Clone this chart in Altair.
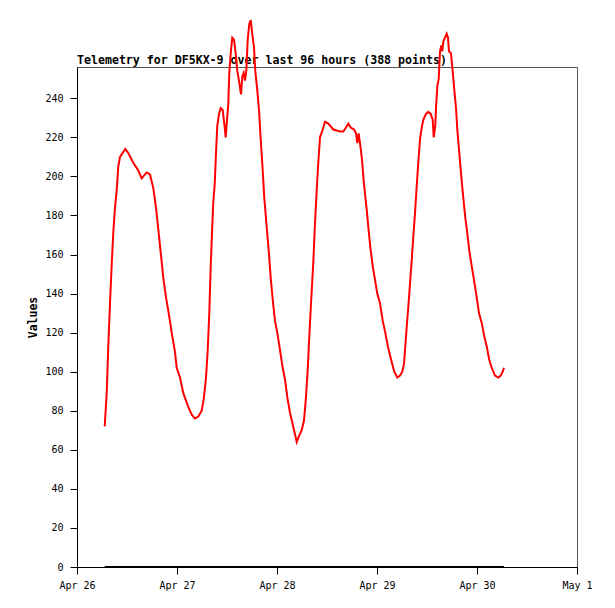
import altair as alt
import pandas as pd

# Hours after Apr 26 00:00 (UTC) and telemetry values
hours = [6.65, 7.13, 7.51, 7.92, 8.33, 8.71, 9.12, 9.53, 9.91, 10.32, 10.97, 11.59,
         12.31, 13.51, 14.71, 15.53, 16.73, 17.52, 18.31, 18.96, 19.51, 20.09, 20.71,
         21.36, 22.01, 22.73, 23.52, 23.93, 24.72, 25.51, 26.71, 27.53, 28.32, 29.11,
         29.93, 30.48, 30.96, 31.37, 31.75, 32.09, 32.40, 32.71, 33.05, 33.36, 33.67,
         34.08, 34.49, 34.97, 35.35, 35.69, 35.93, 36.31, 36.55, 36.89, 37.27, 37.68,
         38.09, 38.47, 38.88, 39.36, 39.67, 40.01, 40.32, 40.63, 40.97, 41.35, 41.69,
         42.07, 42.48, 42.79, 43.27, 43.68, 44.09, 44.57, 44.95, 45.53, 46.01, 46.49,
         46.97, 47.52, 48.07, 48.72, 49.37, 49.92, 50.47, 51.12, 51.77, 52.32, 52.73,
         53.28, 53.93, 54.48, 54.96, 55.37, 55.75, 56.16, 56.71, 57.12, 57.53, 57.91,
         58.32, 58.97, 59.52, 60.31, 61.51, 63.12, 63.91, 64.56, 65.11, 65.69, 66.48,
         66.96, 67.27, 67.61, 67.92, 68.33, 68.88, 69.53, 70.01, 70.49, 70.97, 71.52,
         72.07, 72.72, 73.37, 73.99, 74.71, 75.53, 76.15, 76.87, 77.52, 78.07, 78.48,
         78.79, 79.13, 79.51, 79.92, 80.33, 80.71, 81.12, 81.53, 81.91, 82.32, 82.73,
         83.11, 83.76, 84.31, 84.89, 85.37, 85.61, 85.99, 86.16, 86.47, 86.81, 87.12,
         87.43, 87.67, 87.91, 88.32, 88.73, 89.04, 89.28, 89.76, 90.07, 90.48, 90.96,
         91.27, 91.75, 92.23, 92.71, 93.19, 93.67, 94.15, 94.73, 95.28, 95.93, 96.48,
         97.13, 97.75, 98.33, 98.95, 99.53, 100.32, 101.11, 101.69, 102.17, 102.48]

values = [72, 89, 113, 135, 155, 171, 184, 193, 205, 210, 212, 214,
          212, 207, 203, 199, 202, 201, 194, 184, 173, 161, 148,
          138, 130, 120, 110, 102, 97, 89, 82, 78, 76, 77,
          80, 87, 97, 111, 130, 154, 171, 187, 196, 212, 226,
          232, 235, 234, 227, 220, 227, 237, 253, 263, 271, 270,
          263, 254, 249, 242, 251, 253, 249, 254, 270, 278, 280,
          273, 266, 254, 244, 234, 219, 203, 189, 174, 162, 148,
          137, 126, 120, 111, 102, 96, 87, 79, 73, 68, 64,
          67, 70, 75, 87, 101, 118, 135, 156, 176, 193, 207,
          220, 224, 228, 227, 224, 223, 223, 225, 227, 225, 224,
          222, 217, 222, 217, 210, 196, 183, 172, 162, 154, 147,
          140, 135, 126, 120, 112, 105, 100, 97, 98, 100, 104,
          113, 123, 133, 145, 157, 169, 181, 195, 207, 219, 225,
          229, 232, 233, 232, 229, 220, 226, 235, 246, 250, 264,
          267, 264, 269, 271, 273, 271, 264, 263, 256, 246, 235,
          224, 212, 200, 189, 179, 171, 162, 154, 147, 138, 130,
          125, 118, 113, 106, 102, 98, 97, 98, 100, 102]

zero_values = [0] * len(hours)

title_text = "Telemetry for DF5KX-9 over last 96 hours (388 points)"
y_ticks = [0, 20, 40, 60, 80, 100, 120, 140, 160, 180, 200, 220, 240]
x_tick_dates = [(4, 26), (4, 27), (4, 28), (4, 29), (4, 30), (5, 1)]

base = pd.Timestamp("2023-04-26T00:00:00")
times = [(base + pd.Timedelta(hours=h)).strftime("%Y-%m-%dT%H:%M:%SZ") for h in hours]

df = pd.DataFrame({"time": times, "value": values, "zero": zero_values})

MONO = "DejaVu Sans Mono"

x_ticks = [alt.DateTime(year=2023, month=m, date=d, utc=True) for m, d in x_tick_dates]

x_enc = alt.X(
    "time:T",
    scale=alt.Scale(type="utc",
                    domain=[alt.DateTime(year=2023, month=4, date=26, utc=True),
                            alt.DateTime(year=2023, month=5, date=1, utc=True)]),
    axis=alt.Axis(values=x_ticks, labelExpr="utcFormat(datum.value, '%b %-d')",
                  title=None, grid=False, tickSize=7, tickColor="black",
                  domainColor="black", labelFont=MONO, labelFontSize=10,
                  labelColor="black", labelPadding=6, labelFlush=False),
)

y_scale = alt.Scale(domain=[0, 256], nice=False)

red = alt.Chart(df).mark_line(color="#ff0000", strokeWidth=2).encode(
    x=x_enc,
    y=alt.Y("value:Q", scale=y_scale,
            axis=alt.Axis(values=y_ticks, title="Values", grid=False, tickSize=7,
                          tickColor="black", domainColor="black",
                          labelFont=MONO, labelFontSize=10, labelColor="black",
                          labelPadding=7, titleFont=MONO, titleFontSize=11.5,
                          titleFontWeight="bold", titleColor="black",
                          titlePadding=6)),
)

black = alt.Chart(df).mark_line(color="black", strokeWidth=2).encode(
    x=alt.X("time:T"),
    y=alt.Y("zero:Q"),
)

title_mark = alt.Chart(pd.DataFrame({"t": [title_text]})).mark_text(
    font=MONO, fontSize=11.6, fontWeight="bold", color="black",
    align="left", baseline="alphabetic",
).encode(text="t:N", x=alt.value(0), y=alt.value(-3))

chart = alt.layer(title_mark, black, red).properties(
    width=500,
    height=500,
    autosize=alt.AutoSizeParams(type="none"),
    padding={"left": 69, "top": 59, "right": 30, "bottom": 33},
).configure(
    background="white",
    view=alt.ViewConfig(stroke="#555555", strokeWidth=1),
)

chart.save("out.html", embed_options={"renderer": "svg", "actions": False})
